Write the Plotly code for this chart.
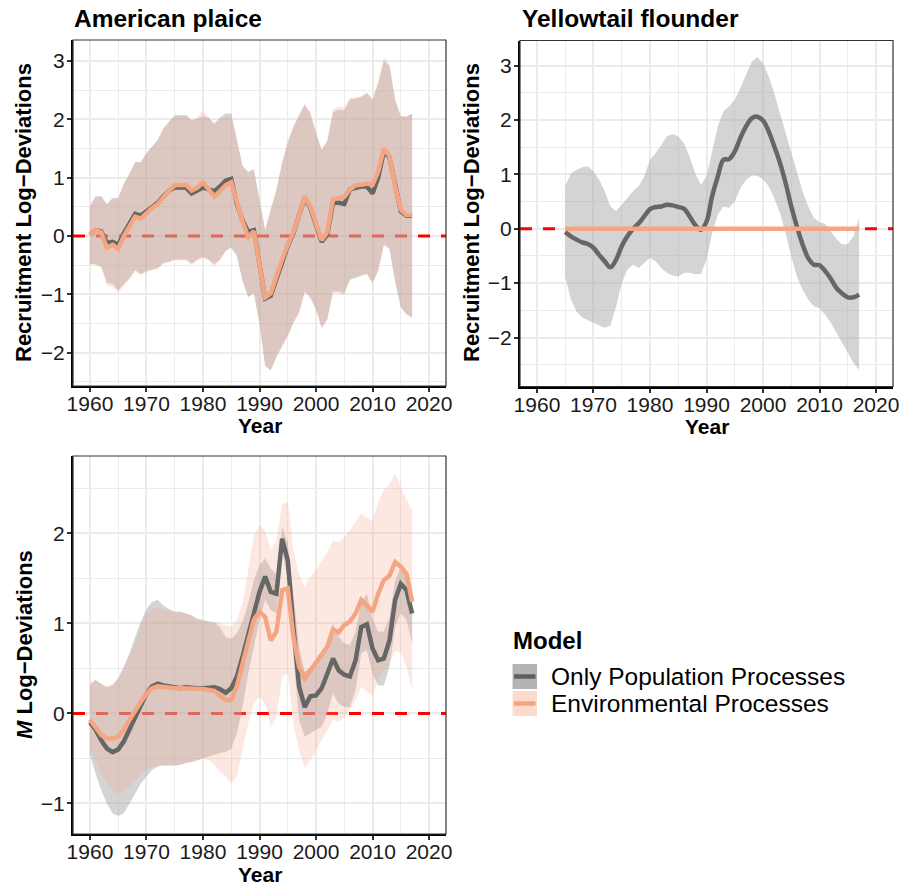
import plotly.graph_objects as go

# ---------------- data ----------------
years_ap = list(range(1960, 2018))
years_yf = list(range(1965, 2018))
years_m = list(range(1960, 2018))

# American plaice recruitment log-deviations
ap_opp_mid = [0.02, 0.1, 0.08, -0.12, -0.1, -0.15, 0.05, 0.2, 0.38, 0.35,
              0.43, 0.5, 0.57, 0.68, 0.78, 0.83, 0.83, 0.83, 0.73, 0.78,
              0.83, 0.8, 0.77, 0.85, 0.95, 0.98, 0.55, 0.27, 0.07, 0.1,
              -0.5, -1.07, -1.02, -0.72, -0.43, -0.17, 0.05, 0.33, 0.66, 0.48,
              0.18, -0.1, 0.03, 0.57, 0.57, 0.55, 0.8, 0.83, 0.85, 0.85,
              0.73, 1.0, 1.45, 1.35, 0.85, 0.42, 0.35, 0.35]
ap_opp_hi = [0.52, 0.68, 0.68, 0.55, 0.65, 0.65, 0.9, 1.07, 1.27, 1.27,
             1.42, 1.53, 1.65, 1.85, 1.96, 2.07, 2.07, 2.07, 1.98, 2.02,
             2.05, 2.03, 1.93, 2.03, 2.1, 2.1, 1.65, 1.2, 1.1, 1.15,
             0.62, 0.1, 0.45, 0.78, 1.25, 1.6, 1.87, 2.05, 2.25, 2.1,
             1.76, 1.47, 1.62, 2.12, 2.17, 2.15, 2.34, 2.36, 2.38, 2.45,
             2.33, 2.6, 3.0, 2.92, 2.33, 2.05, 2.05, 2.1]
ap_opp_lo = [-0.48, -0.48, -0.52, -0.8, -0.82, -0.93, -0.82, -0.72, -0.58, -0.65,
             -0.6, -0.57, -0.55, -0.46, -0.44, -0.4, -0.4, -0.4, -0.47, -0.4,
             -0.36, -0.4, -0.48, -0.4, -0.25, -0.2, -0.35, -0.77, -1.05, -0.98,
             -1.5, -2.22, -2.3, -2.07, -1.88, -1.7, -1.48, -1.3, -0.95, -1.05,
             -1.25, -1.57, -1.42, -0.95, -0.95, -0.98, -0.75, -0.72, -0.68, -0.65,
             -0.8, -0.6, -0.15, -0.22, -0.78, -1.22, -1.34, -1.4]
ap_env_mid = [0.02, 0.1, 0.06, -0.2, -0.15, -0.22, 0.0, 0.17, 0.33, 0.3,
              0.4, 0.48, 0.55, 0.68, 0.78, 0.87, 0.87, 0.88, 0.78, 0.83,
              0.92, 0.8, 0.68, 0.77, 0.87, 0.92, 0.55, 0.25, -0.02, 0.08,
              -0.5, -1.05, -0.98, -0.68, -0.4, -0.15, 0.07, 0.35, 0.68, 0.5,
              0.2, -0.07, 0.07, 0.63, 0.65, 0.67, 0.8, 0.87, 0.88, 0.9,
              0.88, 1.1, 1.5, 1.37, 0.85, 0.45, 0.36, 0.36]
ap_env_hi = [0.5, 0.66, 0.66, 0.53, 0.63, 0.62, 0.88, 1.05, 1.25, 1.26,
             1.41, 1.52, 1.64, 1.84, 1.95, 2.06, 2.07, 2.08, 1.99, 2.03,
             2.15, 2.03, 1.9, 1.98, 2.03, 2.05, 1.63, 1.18, 1.05, 1.12,
             0.6, 0.12, 0.47, 0.8, 1.27, 1.62, 1.9, 2.08, 2.27, 2.12,
             1.78, 1.5, 1.65, 2.17, 2.22, 2.2, 2.37, 2.38, 2.4, 2.45,
             2.35, 2.68, 3.07, 2.95, 2.35, 2.06, 2.05, 2.08]
ap_env_lo = [-0.5, -0.5, -0.55, -0.85, -0.87, -0.98, -0.85, -0.74, -0.6, -0.67,
             -0.62, -0.58, -0.56, -0.47, -0.45, -0.42, -0.42, -0.42, -0.5, -0.42,
             -0.38, -0.42, -0.53, -0.42, -0.26, -0.18, -0.3, -0.75, -1.04, -0.98,
             -1.5, -2.24, -2.3, -2.07, -1.9, -1.73, -1.5, -1.33, -0.97, -1.07,
             -1.27, -1.58, -1.44, -0.98, -0.98, -1.01, -0.75, -0.7, -0.67, -0.64,
             -0.81, -0.58, -0.15, -0.21, -0.75, -1.21, -1.33, -1.38]

# Yellowtail flounder recruitment log-deviations
yf_opp_mid = [-0.06, -0.14, -0.2, -0.25, -0.28, -0.35, -0.48, -0.6, -0.71, -0.57,
              -0.32, -0.14, 0.0, 0.1, 0.23, 0.36, 0.4, 0.41, 0.44, 0.43,
              0.4, 0.37, 0.23, 0.07, -0.02, 0.13, 0.6, 0.96, 1.27, 1.28,
              1.42, 1.67, 1.88, 2.03, 2.06, 1.99, 1.79, 1.51, 1.21, 0.84,
              0.41, 0.04, -0.29, -0.54, -0.66, -0.67, -0.78, -0.92, -1.09, -1.19,
              -1.26, -1.26, -1.21]
yf_opp_hi = [0.78, 1.02, 1.08, 1.13, 1.15, 1.05, 0.9, 0.69, 0.41, 0.32,
             0.44, 0.56, 0.69, 0.78, 0.96, 1.27, 1.39, 1.54, 1.7, 1.74,
             1.7, 1.57, 1.33, 1.02, 0.81, 0.96, 1.45, 1.88, 2.16, 2.25,
             2.37, 2.58, 2.83, 3.07, 3.15, 3.04, 2.8, 2.49, 2.12, 1.76,
             1.39, 1.02, 0.69, 0.41, 0.2, 0.12, 0.09, -0.05, -0.19, -0.29,
             -0.28, -0.14, 0.2]
yf_opp_lo = [-0.88, -1.3, -1.52, -1.63, -1.69, -1.73, -1.78, -1.82, -1.78, -1.43,
             -1.0, -0.75, -0.66, -0.72, -0.63, -0.54, -0.6, -0.72, -0.81, -0.86,
             -0.88, -0.81, -0.81, -0.83, -0.83, -0.57, -0.08, 0.26, 0.41, 0.38,
             0.5, 0.75, 0.9, 0.98, 0.97, 0.91, 0.78, 0.56, 0.29, -0.08,
             -0.51, -0.88, -1.12, -1.3, -1.43, -1.46, -1.58, -1.73, -1.92, -2.1,
             -2.28, -2.47, -2.59]
yf_env_mid = [0.0, 0.0, 0.0, 0.0, 0.0, 0.0, 0.0, 0.0, 0.0, 0.0,
              0.0, 0.0, 0.0, 0.0, 0.0, 0.0, 0.0, 0.0, 0.0, 0.0,
              0.0, 0.0, 0.0, 0.0, 0.0, 0.0, 0.0, 0.0, 0.0, 0.0,
              0.0, 0.0, 0.0, 0.0, 0.0, 0.0, 0.0, 0.0, 0.0, 0.0,
              0.0, 0.0, 0.0, 0.0, 0.0, 0.0, 0.0, 0.0, 0.0, 0.0,
              0.0, 0.0, 0.0]

# American plaice natural mortality (M) log-deviations
m_opp_mid = [-0.1, -0.18, -0.3, -0.39, -0.43, -0.4, -0.31, -0.18, -0.04, 0.09,
             0.22, 0.3, 0.33, 0.31, 0.3, 0.28, 0.28, 0.29, 0.28, 0.28,
             0.28, 0.29, 0.29, 0.27, 0.23, 0.28, 0.41, 0.63, 0.85, 1.11,
             1.35, 1.52, 1.35, 1.33, 1.94, 1.7, 0.96, 0.3, 0.07, 0.19,
             0.2, 0.28, 0.44, 0.61, 0.48, 0.43, 0.41, 0.59, 0.96, 0.99,
             0.72, 0.59, 0.61, 0.81, 1.26, 1.44, 1.37, 1.11]
m_opp_hi = [0.31, 0.37, 0.33, 0.29, 0.31, 0.39, 0.52, 0.67, 0.85, 1.02,
            1.16, 1.24, 1.26, 1.2, 1.16, 1.13, 1.13, 1.11, 1.09, 1.05,
            1.04, 1.02, 1.01, 0.96, 0.85, 0.83, 0.89, 1.02, 1.22, 1.48,
            1.65, 1.72, 1.61, 1.55, 2.07, 1.89, 1.33, 0.74, 0.46, 0.52,
            0.55, 0.65, 0.81, 1.0, 0.85, 0.78, 0.76, 0.91, 1.24, 1.33,
            1.05, 0.91, 0.91, 1.07, 1.48, 1.63, 1.55, 1.41]
m_opp_lo = [-0.46, -0.67, -0.85, -1.0, -1.11, -1.14, -1.11, -1.0, -0.89, -0.78,
            -0.7, -0.63, -0.59, -0.58, -0.58, -0.58, -0.57, -0.55, -0.54, -0.52,
            -0.5, -0.48, -0.46, -0.44, -0.43, -0.39, -0.22, 0.07, 0.44, 0.74,
            1.04, 1.26, 1.15, 1.11, 1.81, 1.48, 0.63, -0.07, -0.26, -0.22,
            -0.18, -0.15, 0.0, 0.22, 0.11, 0.07, 0.07, 0.26, 0.67, 0.7,
            0.44, 0.31, 0.31, 0.52, 0.96, 1.11, 1.04, 0.78]
m_env_mid = [-0.07, -0.15, -0.24, -0.28, -0.28, -0.26, -0.18, -0.07, 0.04, 0.13,
             0.22, 0.28, 0.3, 0.29, 0.28, 0.28, 0.28, 0.28, 0.28, 0.27,
             0.27, 0.26, 0.25, 0.2, 0.15, 0.15, 0.3, 0.55, 0.81, 1.04,
             1.13, 1.07, 0.81, 0.91, 1.37, 1.39, 0.85, 0.52, 0.39, 0.48,
             0.57, 0.65, 0.74, 0.93, 0.9, 0.98, 1.02, 1.11, 1.26, 1.2,
             1.13, 1.33, 1.48, 1.53, 1.68, 1.63, 1.55, 1.24]
m_env_hi = [0.35, 0.37, 0.31, 0.3, 0.33, 0.39, 0.5, 0.63, 0.79, 0.96,
            1.09, 1.16, 1.18, 1.16, 1.14, 1.13, 1.13, 1.11, 1.08, 1.05,
            1.02, 1.02, 1.02, 1.0, 0.98, 0.96, 1.04, 1.22, 1.59, 1.98,
            2.09, 2.03, 1.81, 1.92, 2.33, 2.35, 1.81, 1.55, 1.41, 1.52,
            1.59, 1.7, 1.79, 1.92, 1.9, 1.96, 2.03, 2.13, 2.22, 2.18,
            2.13, 2.35, 2.48, 2.55, 2.66, 2.52, 2.37, 2.26]
m_env_lo = [-0.41, -0.52, -0.67, -0.78, -0.87, -0.89, -0.87, -0.81, -0.74, -0.68,
            -0.63, -0.59, -0.58, -0.58, -0.58, -0.58, -0.57, -0.55, -0.54, -0.52,
            -0.5, -0.52, -0.57, -0.65, -0.7, -0.78, -0.7, -0.41, -0.11, 0.11,
            0.19, 0.11, -0.15, -0.04, 0.41, 0.44, -0.11, -0.41, -0.61, -0.52,
            -0.41, -0.3, -0.18, -0.07, -0.09, -0.04, 0.04, 0.15, 0.3, 0.24,
            0.19, 0.37, 0.48, 0.55, 0.7, 0.67, 0.52, 0.26]

x_ticks = [1960, 1970, 1980, 1990, 2000, 2010, 2020]
x_range = [1957, 2023]
series_names = ["Only Population Processes", "Environmental Processes"]
panel_titles = ["American plaice", "Yellowtail flounder"]

# ---------------- styling ----------------
W, H = 914, 885
FONT = "Liberation Sans, Arial, Helvetica, sans-serif"
OPP_LINE = "#666666"
ENV_LINE = "#F4A582"
OPP_FILL = "rgba(169,169,169,0.5)"
ENV_FILL = "rgba(244,165,130,0.25)"
GRID = "#EBEBEB"


def px_x(p):
    return p / W


def px_y(p):
    return 1 - p / H


fig = go.Figure()


def zero_line(xa, ya):
    # dashed reference line at zero, spanning the x axis range, under the ribbons
    fig.add_trace(go.Scatter(
        x=x_range, y=[0, 0], mode="lines", hoverinfo="skip", showlegend=False,
        line=dict(color="#FF0000", width=3, dash="12px,11px"),
        xaxis=xa, yaxis=ya))


def ribbon(x, lo, hi, color, xa, ya):
    fig.add_trace(go.Scatter(
        x=list(x) + list(x)[::-1], y=list(hi) + list(lo)[::-1],
        fill="toself", fillcolor=color, line=dict(width=0),
        mode="lines", hoverinfo="skip", showlegend=False,
        xaxis=xa, yaxis=ya))


def line(x, y, color, xa, ya, shape="linear"):
    fig.add_trace(go.Scatter(
        x=x, y=y, mode="lines", line=dict(color=color, width=4.5, shape=shape),
        showlegend=False, xaxis=xa, yaxis=ya))


# Panel 1: American plaice
zero_line("x", "y")
ribbon(years_ap, ap_opp_lo, ap_opp_hi, OPP_FILL, "x", "y")
ribbon(years_ap, ap_env_lo, ap_env_hi, ENV_FILL, "x", "y")
line(years_ap, ap_opp_mid, OPP_LINE, "x", "y")
line(years_ap, ap_env_mid, ENV_LINE, "x", "y")

# Panel 2: Yellowtail flounder
zero_line("x2", "y2")
ribbon(years_yf, yf_opp_lo, yf_opp_hi, OPP_FILL, "x2", "y2")
line(years_yf, yf_opp_mid, OPP_LINE, "x2", "y2", shape="spline")
line(years_yf, yf_env_mid, ENV_LINE, "x2", "y2")

# Panel 3: M log-deviations
zero_line("x3", "y3")
ribbon(years_m, m_opp_lo, m_opp_hi, OPP_FILL, "x3", "y3")
ribbon(years_m, m_env_lo, m_env_hi, ENV_FILL, "x3", "y3")
line(years_m, m_opp_mid, OPP_LINE, "x3", "y3")
line(years_m, m_env_mid, ENV_LINE, "x3", "y3")

# panel geometry (pixels)
panels = {
    "1": dict(x=(73, 446), y=(40, 386), yr=(-2.57, 3.36), yt=[-2, -1, 0, 1, 2, 3]),
    "2": dict(x=(520, 893), y=(40.5, 386.5), yr=(-2.9, 3.46), yt=[-2, -1, 0, 1, 2, 3]),
    "3": dict(x=(73, 446), y=(456, 834), yr=(-1.34, 2.86), yt=[-1, 0, 1, 2]),
}

tickfont = dict(family=FONT, size=21, color="#1a1a1a")
layout_axes = {}
shapes = []
annotations = []
for k, p in panels.items():
    suf = "" if k == "1" else k
    layout_axes["xaxis" + suf] = dict(
        domain=[px_x(p["x"][0]), px_x(p["x"][1])], anchor="y" + suf,
        range=x_range, tickvals=x_ticks, ticks="outside", ticklen=4,
        tickwidth=1.5, tickcolor="#333", showline=True, linecolor="black",
        linewidth=2, showgrid=True, gridcolor=GRID, gridwidth=1.8,
        minor=dict(tick0=1955, dtick=10, showgrid=True, gridcolor=GRID,
                   gridwidth=0.9, ticks=""),
        automargin=False, ticklabelstandoff=-6,
        zeroline=False, tickfont=tickfont, fixedrange=True)
    layout_axes["yaxis" + suf] = dict(
        domain=[px_y(p["y"][1]), px_y(p["y"][0])], anchor="x" + suf,
        range=list(p["yr"]), tickvals=p["yt"], ticks="outside", ticklen=4,
        tickwidth=1.5, tickcolor="#333", showline=True, linecolor="black",
        linewidth=2, showgrid=True, gridcolor=GRID, gridwidth=1.8,
        minor=dict(tick0=0.5, dtick=1, showgrid=True, gridcolor=GRID,
                   gridwidth=0.9, ticks=""),
        automargin=False, ticklabelstandoff=-2,
        zeroline=False, tickfont=tickfont, fixedrange=True)
    xr = "x" + suf
    yr = "y" + suf
    # panel border
    shapes.append(dict(type="rect", xref=xr + " domain", yref=yr + " domain",
                       x0=0, x1=1, y0=0, y1=1, layer="above",
                       line=dict(color="#333333", width=1.2)))
    # x axis title
    annotations.append(dict(text="<b>Year</b>", xref="paper", yref="paper",
                            x=px_x((p["x"][0] + p["x"][1]) / 2),
                            y=px_y(p["y"][1] + 40), xanchor="center",
                            yanchor="middle", showarrow=False,
                            font=dict(family=FONT, size=21, color="black")))

# y axis titles
annotations.append(dict(text="<b>Recruitment Log\u2212Deviations</b>", xref="paper",
                        yref="paper", x=px_x(24), y=px_y(213), textangle=-90,
                        xanchor="center", yanchor="middle", showarrow=False,
                        font=dict(family=FONT, size=22, color="black")))
annotations.append(dict(text="<b>Recruitment Log\u2212Deviations</b>", xref="paper",
                        yref="paper", x=px_x(472), y=px_y(213), textangle=-90,
                        xanchor="center", yanchor="middle", showarrow=False,
                        font=dict(family=FONT, size=22, color="black")))
annotations.append(dict(text="<b><i>M</i> Log\u2212Deviations</b>", xref="paper",
                        yref="paper", x=px_x(24), y=px_y(645), textangle=-90,
                        xanchor="center", yanchor="middle", showarrow=False,
                        font=dict(family=FONT, size=22, color="black")))

# panel titles
annotations.append(dict(text="<b>" + panel_titles[0] + "</b>", xref="paper", yref="paper",
                        x=px_x(72), y=px_y(18), xanchor="left", yanchor="middle",
                        showarrow=False, font=dict(family=FONT, size=24.5, color="black")))
annotations.append(dict(text="<b>" + panel_titles[1] + "</b>", xref="paper", yref="paper",
                        x=px_x(520), y=px_y(18), xanchor="left", yanchor="middle",
                        showarrow=False, font=dict(family=FONT, size=24.5, color="black")))

# custom legend
annotations.append(dict(text="<b>Model</b>", xref="paper", yref="paper",
                        x=px_x(511), y=px_y(640), xanchor="left", yanchor="middle",
                        showarrow=False, font=dict(family=FONT, size=24, color="black")))
legend_rows = [(series_names[0], "#B4B4B4", "#5F5F5F", 664, 689),
               (series_names[1], "#FBDCCB", ENV_LINE, 691, 716)]
for name, fillc, linec, y0, y1 in legend_rows:
    shapes.append(dict(type="rect", xref="paper", yref="paper",
                       x0=px_x(512.5), x1=px_x(537), y0=px_y(y1), y1=px_y(y0),
                       fillcolor=fillc, line=dict(width=0)))
    shapes.append(dict(type="line", xref="paper", yref="paper",
                       x0=px_x(514), x1=px_x(535.5), y0=px_y((y0 + y1) / 2),
                       y1=px_y((y0 + y1) / 2), line=dict(color=linec, width=4.5)))
    annotations.append(dict(text=name, xref="paper", yref="paper",
                            x=px_x(549), y=px_y((y0 + y1) / 2), xanchor="left",
                            yanchor="middle", showarrow=False,
                            font=dict(family=FONT, size=24.5, color="black")))

fig.update_layout(
    width=W, height=H, margin=dict(l=0, r=0, t=0, b=0, autoexpand=False),
    paper_bgcolor="white", plot_bgcolor="white", showlegend=False,
    shapes=shapes, annotations=annotations, font=dict(family=FONT),
    **layout_axes)

fig.write_html("out.html", config={"displayModeBar": False})
